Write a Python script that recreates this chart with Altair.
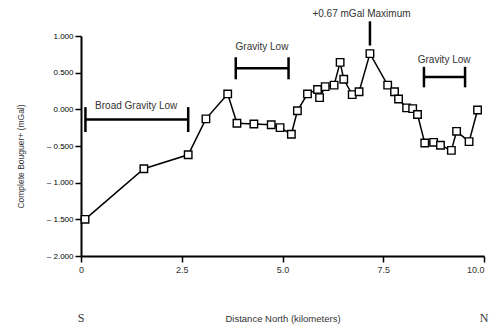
import altair as alt
import pandas as pd

# Profile data: distance north (km) and complete Bouguer anomaly (mGal)
dist = [0.10, 1.56, 2.66, 3.10, 3.64, 3.87, 4.29, 4.72, 4.94, 5.22, 5.37, 5.62,
        5.87, 5.92, 6.06, 6.28, 6.43, 6.52, 6.73, 6.90, 7.17, 7.61, 7.78, 7.88,
        8.08, 8.23, 8.35, 8.53, 8.75, 8.92, 9.19, 9.32, 9.63, 9.84]
bouguer = [-1.50, -0.81, -0.62, -0.13, 0.21, -0.19, -0.20, -0.21, -0.25, -0.34, -0.02, 0.21,
           0.27, 0.16, 0.31, 0.33, 0.64, 0.41, 0.20, 0.24, 0.76, 0.33, 0.24, 0.14,
           0.02, 0.01, -0.07, -0.46, -0.45, -0.49, -0.56, -0.30, -0.44, -0.01]

# Annotation bars (gravity lows)
bar_x1 = [0.11, 3.84, 8.51]
bar_x2 = [2.66, 5.15, 9.53]
bar_y = [-0.14, 0.56, 0.44]
cap_top = [0.03, 0.71, 0.58]
cap_bottom = [-0.31, 0.41, 0.30]

# Maximum pointer
max_x = [7.17]
max_y1 = [0.87]
max_y2 = [1.20]

# Annotation labels
ann_text = ["Broad Gravity Low", "Gravity Low", "+0.67 mGal Maximum", "Gravity Low"]
ann_x = [1.37, 4.49, 6.96, 9.01]
ann_y = [0.05, 0.85, 1.30, 0.67]

# Compass letters
compass_text = ["S", "N"]
compass_x = [0.0, 10.0]

x_ticks = [0, 2.5, 5.0, 7.5, 10.0]
y_ticks = [1.0, 0.5, 0.0, -0.5, -1.0, -1.5, -2.0]

W, H = 403, 220

df = pd.DataFrame({"dist": dist, "bouguer": bouguer, "idx": list(range(len(dist)))})
bars = pd.DataFrame({"x1": bar_x1, "x2": bar_x2, "y": bar_y})
caps = pd.DataFrame({"x": bar_x1 + bar_x2, "ct": cap_top + cap_top, "cb": cap_bottom + cap_bottom})
maxdf = pd.DataFrame({"x": max_x, "y1": max_y1, "y2": max_y2})
anns = pd.DataFrame({"text": ann_text, "x": ann_x, "y": ann_y})
comp = pd.DataFrame({"text": compass_text, "x": compass_x})

xscale = alt.Scale(domain=[0, 10], nice=False, zero=False)
yscale = alt.Scale(domain=[-2, 1], nice=False, zero=False)

xaxis = alt.Axis(values=x_ticks, grid=False, domainColor="black", domainWidth=2,
                 tickColor="black", tickWidth=1.5, tickSize=6, labelOverlap=False,
                 labelFlush=False,
                 labelAlign={"condition": {"test": "datum.value >= 10", "value": "right"},
                             "value": "center"},
                 labelExpr="datum.value == 0 ? '0' : format(datum.value, '.1f')",
                 labelFont="Liberation Sans", labelFontSize=9, labelColor="#333",
                 labelPadding=3,
                 title="Distance North (kilometers)", titleFont="Liberation Sans",
                 titleFontSize=9.5, titleFontWeight="normal", titleColor="#333",
                 titlePadding=39)
yaxis = alt.Axis(values=y_ticks, grid=False, domainColor="black", domainWidth=2,
                 tickColor="black", tickWidth=1.5, tickSize=6, labelOverlap=False,
                 labelFlush=False,
                 labelExpr="datum.value < 0 ? '\u2013 ' + format(abs(datum.value), '.3f') : format(datum.value, '.3f')",
                 labelFont="Liberation Sans", labelFontSize=8, labelColor="black",
                 labelPadding=2,
                 title="Complete Bouguer+ (mGal)", titleFont="Liberation Sans",
                 titleFontSize=8.5, titleFontWeight="normal", titleColor="#333",
                 titleX=-56, titleY=120)


def X(field):
    return alt.X(field, type="quantitative", scale=xscale, axis=xaxis)


def Y(field):
    return alt.Y(field, type="quantitative", scale=yscale, axis=yaxis)


line = alt.Chart(df).mark_line(color="black", strokeWidth=1.5).encode(
    x=X("dist"), y=Y("bouguer"), order="idx:Q",
)
pts = alt.Chart(df).mark_square(fill="white", stroke="black", strokeWidth=1.4,
                                size=56, opacity=1).encode(
    x=X("dist"), y=Y("bouguer")
)
hbars = alt.Chart(bars).mark_rule(color="black", strokeWidth=2.5).encode(
    x=X("x1"), x2="x2:Q", y=Y("y")
)
vcaps = alt.Chart(caps).mark_rule(color="black", strokeWidth=2.5).encode(
    x=X("x"), y=Y("ct"), y2="cb:Q"
)
maxline = alt.Chart(maxdf).mark_rule(color="black", strokeWidth=2.5).encode(
    x=X("x"), y=Y("y1"), y2="y2:Q"
)
labels = alt.Chart(anns).mark_text(font="Liberation Sans", fontSize=10, color="#333",
                                   align="center", baseline="middle").encode(
    x=X("x"), y=Y("y"), text="text:N"
)
compass = alt.Chart(comp).mark_text(font="Liberation Serif", fontSize=12, color="#333",
                                    align="center", baseline="middle").encode(
    x=X("x"), y=alt.value(H + 62), text="text:N"
)

chart = alt.layer(line, pts, hbars, vcaps, maxline, labels, compass).properties(
    width=W, height=H, padding={"left": 8, "top": 1, "right": 0, "bottom": 0}
).configure_view(stroke=None)

chart.save("out.html", embed_options={"renderer": "svg", "actions": False})
